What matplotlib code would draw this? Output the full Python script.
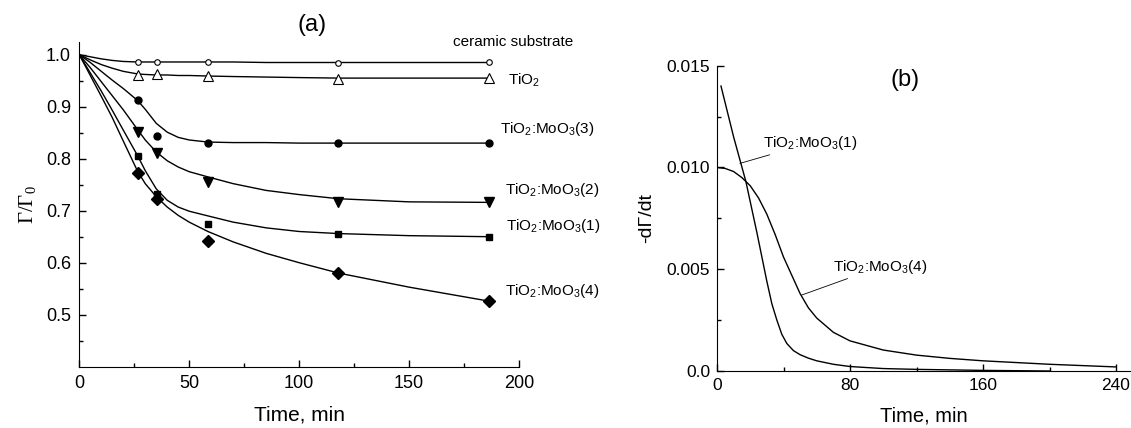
import matplotlib
matplotlib.use("Agg")
import matplotlib.pyplot as plt
from matplotlib.ticker import MultipleLocator, FixedLocator, FuncFormatter

plt.rcParams['font.family'] = ['Liberation Sans', 'DejaVu Sans']

# ---------------- Panel (a) data ----------------
t_meas = [26.5, 35.5, 58.5, 117.5, 186.5]
ceramic_pts = [0.986, 0.986, 0.986, 0.984, 0.985]
tio2_pts = [0.961, 0.963, 0.959, 0.954, 0.956]
mo3_pts = [0.913, 0.844, 0.831, 0.831, 0.831]
mo2_pts = [0.852, 0.811, 0.756, 0.716, 0.716]
mo1_pts = [0.805, 0.732, 0.674, 0.655, 0.650]
mo4_pts = [0.773, 0.723, 0.642, 0.580, 0.526]

# fitted curves
t_fit = [0, 5, 10, 15, 20, 26.5, 30, 35, 40, 45, 50, 58.5, 70, 85, 100, 118, 150, 186.5]
ceramic_fit = [1.0, 0.996, 0.992, 0.989, 0.987, 0.986, 0.986, 0.986, 0.986, 0.986, 0.986, 0.986,
               0.986, 0.985, 0.985, 0.985, 0.985, 0.985]
tio2_fit = [1.0, 0.990, 0.981, 0.974, 0.968, 0.963, 0.962, 0.961, 0.961, 0.960, 0.960, 0.959,
            0.958, 0.957, 0.956, 0.955, 0.955, 0.955]
mo3_fit = [1.0, 0.985, 0.968, 0.951, 0.935, 0.912, 0.895, 0.868, 0.851, 0.841, 0.836, 0.832,
           0.831, 0.831, 0.830, 0.830, 0.830, 0.830]
mo2_fit = [1.0, 0.975, 0.948, 0.921, 0.894, 0.856, 0.836, 0.813, 0.796, 0.784, 0.775, 0.765,
           0.752, 0.739, 0.731, 0.723, 0.717, 0.716]
mo1_fit = [1.0, 0.965, 0.930, 0.893, 0.855, 0.806, 0.777, 0.742, 0.720, 0.707, 0.699, 0.690,
           0.678, 0.667, 0.660, 0.656, 0.652, 0.650]
mo4_fit = [1.0, 0.960, 0.920, 0.879, 0.834, 0.776, 0.752, 0.727, 0.707, 0.691, 0.678, 0.660,
           0.640, 0.618, 0.600, 0.580, 0.553, 0.526]

labels_a = ['ceramic substrate', 'TiO$\\mathregular{_2}$',
            'TiO$\\mathregular{_2}$:MoO$\\mathregular{_3}$(3)',
            'TiO$\\mathregular{_2}$:MoO$\\mathregular{_3}$(2)',
            'TiO$\\mathregular{_2}$:MoO$\\mathregular{_3}$(1)',
            'TiO$\\mathregular{_2}$:MoO$\\mathregular{_3}$(4)']

# ---------------- Panel (b) data ----------------
t_b1 = [2.4, 10, 17.4, 24, 30, 33, 36, 39, 42, 46, 50, 55, 60, 70, 80, 100, 120, 160, 200]
rate_b1 = [0.0140, 0.0115, 0.0093, 0.0068, 0.0044, 0.0033, 0.0025, 0.0018, 0.00135, 0.00100,
           0.00080, 0.00063, 0.00050, 0.00033, 0.00022, 0.00012, 0.00008, 0.00003, 0.0]
t_b4 = [0, 5, 10, 15, 20, 25, 30, 35, 40, 45, 50, 55, 60, 70, 80, 100, 120, 140, 160, 200, 240]
rate_b4 = [0.0100, 0.00995, 0.0098, 0.0095, 0.0091, 0.0085, 0.0077, 0.0067, 0.0056, 0.0047,
           0.0038, 0.0031, 0.0026, 0.0019, 0.00148, 0.00103, 0.00078, 0.00062, 0.00050,
           0.00033, 0.00020]
labels_b = ['TiO$\\mathregular{_2}$:MoO$\\mathregular{_3}$(1)',
            'TiO$\\mathregular{_2}$:MoO$\\mathregular{_3}$(4)']

W, H = 1131, 428
fig = plt.figure(figsize=(W / 100, H / 100), dpi=100)

# ---------------- Panel (a) ----------------
axa = fig.add_axes([79.3 / W, (H - 366.7) / H, (519 - 79.3) / W, (366.7 - 41.7) / H])
lw = 1.0
for curve in [ceramic_fit, tio2_fit, mo3_fit, mo2_fit, mo1_fit, mo4_fit]:
    axa.plot(t_fit, curve, color='black', lw=lw)

axa.plot(t_meas, ceramic_pts, 'o', ms=4, mfc='white', mec='black', mew=0.8)
axa.plot(t_meas, tio2_pts, '^', ms=6.5, mfc='white', mec='black', mew=0.8)
axa.plot(t_meas, mo3_pts, 'o', ms=5, color='black')
axa.plot(t_meas, mo2_pts, 'v', ms=7.5, color='black')
axa.plot(t_meas, mo1_pts, 's', ms=4.5, color='black')
axa.plot(t_meas, mo4_pts, 'D', ms=6, color='black')

axa.set_xlim(0, 200)
axa.set_ylim(0.4, 1.025)
axa.xaxis.set_major_locator(MultipleLocator(50))
axa.xaxis.set_minor_locator(MultipleLocator(25))
axa.yaxis.set_major_locator(FixedLocator([0.5, 0.6, 0.7, 0.8, 0.9, 1.0]))
axa.yaxis.set_minor_locator(FixedLocator([0.45, 0.55, 0.65, 0.75, 0.85, 0.95]))
axa.yaxis.set_major_formatter(FuncFormatter(lambda v, p: f'{v:.1f}'))
for s in ['top', 'right']:
    axa.spines[s].set_visible(False)
axa.tick_params(which='both', direction='in', labelsize=13, width=1)
axa.tick_params(which='major', length=5, pad=6)
axa.tick_params(which='minor', length=3)
axa.set_xlabel('Time, min', fontsize=15, labelpad=10)
axa.set_ylabel('Γ/Γ$\\mathregular{_0}$', fontsize=15, family=['Liberation Serif', 'DejaVu Serif'],
               labelpad=6)

lab_pos_a = [(170, 1.024), (195, 0.951), (191.5, 0.858), (193.5, 0.740), (194, 0.671), (193.5, 0.546)]
for (x, y), txt in zip(lab_pos_a, labels_a):
    axa.text(x, y, txt, fontsize=11, va='center', ha='left', clip_on=False)
axa.text(106, 1.058, '(a)', fontsize=17, ha='center', va='center', clip_on=False)

# ---------------- Panel (b) ----------------
axb = fig.add_axes([717 / W, (H - 371) / H, (1131 - 717) / W, (371 - 65.7) / H])
axb.plot(t_b1, rate_b1, color='black', lw=lw)
axb.plot(t_b4, rate_b4, color='black', lw=lw)
axb.set_xlim(0, 249)
axb.set_ylim(0, 0.015)
axb.xaxis.set_major_locator(FixedLocator([0, 80, 160, 240]))
axb.xaxis.set_minor_locator(FixedLocator([40, 120, 200]))
axb.yaxis.set_major_locator(FixedLocator([0, 0.005, 0.010, 0.015]))
axb.yaxis.set_minor_locator(FixedLocator([0.0025, 0.0075, 0.0125]))
axb.yaxis.set_major_formatter(FuncFormatter(lambda v, p: '0.0' if v == 0 else f'{v:.3f}'))
for s in ['top', 'right']:
    axb.spines[s].set_visible(False)
axb.tick_params(which='both', direction='in', labelsize=12.5, width=1)
axb.tick_params(which='major', length=5, pad=5)
axb.tick_params(which='minor', length=3)
axb.set_xlabel('Time, min', fontsize=14.5, labelpad=10)
axb.set_ylabel('-dΓ/dt', fontsize=14, labelpad=8)

axb.annotate(labels_b[0], xy=(13.8, 0.0102), xytext=(27.7, 0.0112), fontsize=11,
             va='center', ha='left',
             arrowprops=dict(arrowstyle='-', color='black', lw=0.6, shrinkA=0, shrinkB=0))
axb.annotate(labels_b[1], xy=(50.9, 0.00373), xytext=(69.8, 0.00512), fontsize=11,
             va='center', ha='left',
             arrowprops=dict(arrowstyle='-', color='black', lw=0.6, shrinkA=0, shrinkB=0))
axb.text(113, 0.0143, '(b)', fontsize=17, ha='center', va='center')

fig.savefig('out.png', dpi=100)
